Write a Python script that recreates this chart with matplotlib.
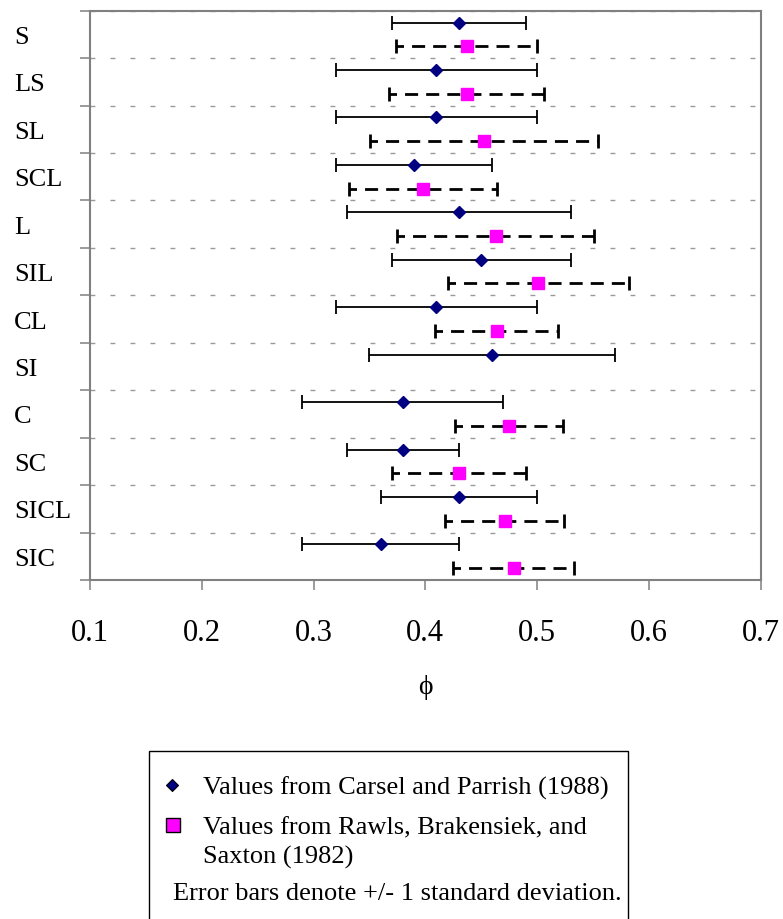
import numpy as np
import matplotlib.pyplot as plt
import matplotlib.transforms as mtransforms
from matplotlib.lines import Line2D
from matplotlib.patches import Rectangle

plt.rcParams['font.family'] = ['Liberation Serif', 'DejaVu Serif']

# soil texture classes, top to bottom
soil_classes = ['S', 'LS', 'SL', 'SCL', 'L', 'SIL', 'CL', 'SI', 'C', 'SC', 'SICL', 'SIC']

# Carsel and Parrish (1988): mean porosity and standard deviation
cp_mean = np.array([0.43, 0.41, 0.41, 0.39, 0.43, 0.45, 0.41, 0.46, 0.38, 0.38, 0.43, 0.36])
cp_sd = np.array([0.06, 0.09, 0.09, 0.07, 0.10, 0.08, 0.09, 0.11, 0.09, 0.05, 0.07, 0.07])

# Rawls, Brakensiek and Saxton (1982): mean, -1 sd, +1 sd (no value for SI)
rb_mean = np.array([0.437, 0.437, 0.453, 0.398, 0.463, 0.501, 0.464, np.nan, 0.475, 0.430, 0.471, 0.479])
rb_low = np.array([0.374, 0.368, 0.351, 0.332, 0.375, 0.420, 0.409, np.nan, 0.427, 0.370, 0.418, 0.425])
rb_high = np.array([0.500, 0.506, 0.555, 0.464, 0.551, 0.582, 0.519, np.nan, 0.523, 0.490, 0.524, 0.533])

x_ticks = [0.1, 0.2, 0.3, 0.4, 0.5, 0.6, 0.7]

W, H = 783, 920
fig = plt.figure(figsize=(W / 100, H / 100), dpi=100)
ax = fig.add_axes([90 / W, 1 - 581 / H, 670.5 / W, 569.3 / H])

idx = np.arange(len(soil_classes))
y_cp = 2 * idx + 0.5
y_rb = 2 * idx + 1.5
ok = ~np.isnan(rb_mean)

# Carsel and Parrish: solid error bars
ax.errorbar(cp_mean, y_cp, xerr=cp_sd, fmt='none', ecolor='black',
            elinewidth=1.3, capsize=5.3, capthick=1.3, zorder=3)
ax.plot(cp_mean, y_cp, linestyle='none', marker='D', ms=6.0,
        mfc='#000080', mec='#000080', zorder=4)

# Rawls et al.: dashed error bars
eb = ax.errorbar(rb_mean[ok], y_rb[ok],
                 xerr=[rb_mean[ok] - rb_low[ok], rb_high[ok] - rb_mean[ok]],
                 fmt='none', ecolor='black', elinewidth=2.0, capsize=5.3,
                 capthick=2.0, zorder=3)
eb[2][0].set_linestyle((2.0, (4.7, 2.9)))
ax.plot(rb_mean[ok], y_rb[ok], linestyle='none', marker='s', ms=9.3,
        mfc='#FF00FF', mec='#FF00FF', zorder=4)

ax.set_xlim(0.1, 0.7)
ax.set_ylim(24, 0)
ax.set_xticks(x_ticks)
ax.set_xticklabels([f'{t:.1f}' for t in x_ticks])
ax.set_yticks(np.arange(0, 25, 2))
ax.set_yticklabels([])
ax.tick_params(axis='x', direction='out', length=7.2, width=1.1,
               color='#808080', labelsize=22, pad=20)
ax.tick_params(axis='y', direction='out', length=7.2, width=1.1,
               color='#808080')
ax.grid(axis='y', color='#999999', linestyle=(0, (3.5, 10.9)), linewidth=1.0)
for sp in ax.spines.values():
    sp.set_color('#808080')
    sp.set_linewidth(1.5)

# category names on the left
trans = mtransforms.blended_transform_factory(ax.transAxes, ax.transData)
for i, name in enumerate(soil_classes):
    ax.text((14 - 90) / 670.5, 2 * i + 1, name, transform=trans,
            ha='left', va='center_baseline', fontsize=19)

ax.set_xlabel('ϕ', fontsize=20)
ax.xaxis.set_label_coords(0.5, (581 - 688) / 569.3)
ax.xaxis.label.set_verticalalignment('center')

# legend box
fig.add_artist(Rectangle((149 / W, -0.05), (628 - 149) / W, (920 - 752) / H + 0.05,
                         transform=fig.transFigure, fill=False,
                         edgecolor='black', linewidth=1.0))
fig.add_artist(Line2D([172 / W], [1 - 786 / H], transform=fig.transFigure,
                      marker='D', ms=6.2, mfc='#000080', mec='black', mew=0.8))
fig.text(203 / W, 1 - 786 / H, 'Values from Carsel and Parrish (1988)',
         ha='left', va='center_baseline', fontsize=19)
fig.add_artist(Line2D([173 / W], [1 - 826 / H], transform=fig.transFigure,
                      marker='s', ms=10, mfc='#FF00FF', mec='black', mew=1.0))
fig.text(203 / W, 1 - 826 / H, 'Values from Rawls, Brakensiek, and',
         ha='left', va='center_baseline', fontsize=19)
fig.text(203 / W, 1 - 855 / H, 'Saxton (1982)',
         ha='left', va='center_baseline', fontsize=19)
fig.text(173 / W, 1 - 892 / H, 'Error bars denote +/- 1 standard deviation.',
         ha='left', va='center_baseline', fontsize=19)

fig.savefig('out.png', dpi=100)
